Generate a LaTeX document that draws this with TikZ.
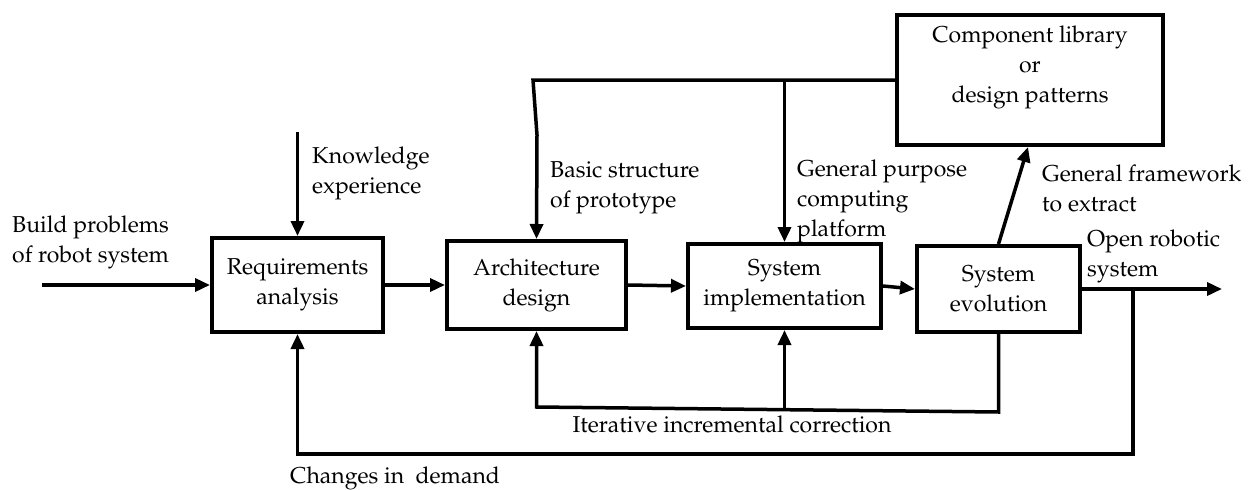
\documentclass[tikz,border=0pt]{standalone}
\usepackage[T1]{fontenc}
\usepackage{mathpazo}
\usetikzlibrary{arrows.meta}
\tikzset{
  box/.style={draw, line width=4pt, rectangle, align=center, inner sep=0pt, font=\fontsize{23}{30}\selectfont},
  lbl/.style={align=left, inner sep=0pt, anchor=west, font=\fontsize{23}{30}\selectfont},
  conn/.style={line width=3.5pt, -{Triangle[length=15pt,width=13pt]}},
}
\begin{document}
\begin{tikzpicture}[x=1pt,y=-1pt]
\useasboundingbox (0,0) rectangle (1251,490);
% boxes
\node[box, minimum width=171pt, minimum height=94pt] (req) at (297.5,285) {Requirements\\analysis};
\node[box, minimum width=179pt, minimum height=88pt] (arch) at (536.5,285) {Architecture\\design};
\node[box, minimum width=193pt, minimum height=84pt] (impl) at (784.5,286) {System\\implementation};
\node[box, minimum width=163pt, minimum height=86pt] (evol) at (998.5,289) {System\\evolution};
\node[box, minimum width=266pt, minimum height=130pt] (lib) at (1030,80) {};
\node[box, draw=none] (libtxt) at (1030,67) {Component library\\or\\design patterns};
% coordinates
\coordinate (in) at (42,285);
\coordinate (kn) at (297.5,132);
\coordinate (out) at (1222,289);
\coordinate (t1) at (533,80);
\coordinate (t2) at (537,135);
\coordinate (tj) at (784.5,80);
\coordinate (i1) at (998.5,412);
\coordinate (i2) at (536.5,407);
\coordinate (i3) at (784.5,409.5);
\coordinate (b0) at (1133,289);
\coordinate (b1) at (1133,454);
\coordinate (b2) at (297.5,454);
% connectors
\draw[conn] (in) -- (req.west);
\draw[conn] (kn) -- (req.north);
\draw[conn] (req.east) -- (arch.west);
\draw[conn] (arch.east) -- (impl.west);
\draw[conn] (impl.east) -- (evol.west);
\draw[conn] (evol.east) -- (out);
\draw[conn] (lib.west) -- (t1) -- (t2) -- (arch.north);
\draw[conn] (tj) -- (impl.north);
\draw[conn] (evol.north) -- ([xshift=-2pt]lib.south);
\draw[conn] (evol.south) -- (i1) -- (i2) -- (arch.south);
\draw[conn] (i3) -- (impl.south);
\draw[conn] (b0) -- (b1) -- (b2) -- (req.south);
% labels
\node[lbl] (l1) at (12,242) {Build problems\\of robot system};
\node[lbl] (l2) at (312,173) {Knowledge\\experience};
\node[lbl] (l3) at (550,188) {Basic structure\\of prototype};
\node[lbl] (l4) at (797,201) {General purpose\\computing\\platform};
\node[lbl] (l5) at (1042,188) {General framework\\to extract};
\node[lbl] (l6) at (1087,256.5) {Open robotic\\system};
\node[lbl, anchor=center] (l7) at (732,424) {Iterative incremental correction};
\node[lbl] (l8) at (290,478) {Changes in\ \ demand};
\end{tikzpicture}
\end{document}
